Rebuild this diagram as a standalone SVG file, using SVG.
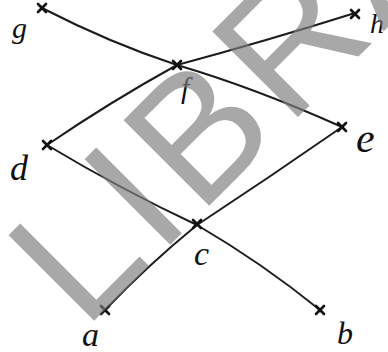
<svg xmlns="http://www.w3.org/2000/svg" width="388" height="352" viewBox="0 0 388 352">
<style>
.edge{fill:none;stroke:#1c1c1c;stroke-width:2;stroke-linecap:round}
.mark{stroke:#111;stroke-width:2.6;stroke-linecap:round}
.lbl{font-family:"Liberation Serif","DejaVu Serif",serif;font-style:italic;fill:#111}
.wm{font-family:"Liberation Sans",Arial,sans-serif;fill:#7e7e7e;fill-opacity:0.67}
</style>
<defs>
<g id="x"><line class="mark" x1="-4" y1="-4" x2="4" y2="4"/><line class="mark" x1="4" y1="-4" x2="-4" y2="4"/></g>
</defs>
<rect width="388" height="352" fill="#fff"/>
<g id="connectors">
<path class="edge" d="M42,8 Q110,43 177,65"/>
<path class="edge" d="M177,65 Q266,41 355,13"/>
<path class="edge" d="M177,65 Q110,102 47,145"/>
<path class="edge" d="M177,65 Q255,88 342,127"/>
<path class="edge" d="M47,145 Q122,190 197,225"/>
<path class="edge" d="M342,127 Q270,177 197,225"/>
<path class="edge" d="M197,225 Q148,265 105,310"/>
<path class="edge" d="M197,225 Q262,263 320,310"/>
</g>
<g id="node-g"><use href="#x" x="42" y="8"/><text class="lbl" x="12" y="38" font-size="30">g</text></g>
<g id="node-h"><use href="#x" x="355" y="14"/><text class="lbl" x="370" y="33" font-size="28">h</text></g>
<g id="node-f"><use href="#x" x="177" y="65"/><text class="lbl" x="181" y="98" font-size="30">f</text></g>
<g id="node-e"><use href="#x" x="342" y="127"/><text class="lbl" x="356" y="152" font-size="42">e</text></g>
<g id="node-d"><use href="#x" x="47" y="145"/><text class="lbl" x="10" y="180" font-size="36">d</text></g>
<g id="node-c"><use href="#x" x="197" y="224"/><text class="lbl" x="194" y="265" font-size="34">c</text></g>
<g id="node-a"><use href="#x" x="105" y="310"/><text class="lbl" x="82" y="346" font-size="34">a</text></g>
<g id="node-b"><use href="#x" x="320" y="310"/><text class="lbl" x="337" y="344" font-size="32">b</text></g>
<g id="watermark"><text class="wm" font-size="176" letter-spacing="8" transform="translate(84,331) rotate(-45)">LIBRA</text></g>
</svg>
